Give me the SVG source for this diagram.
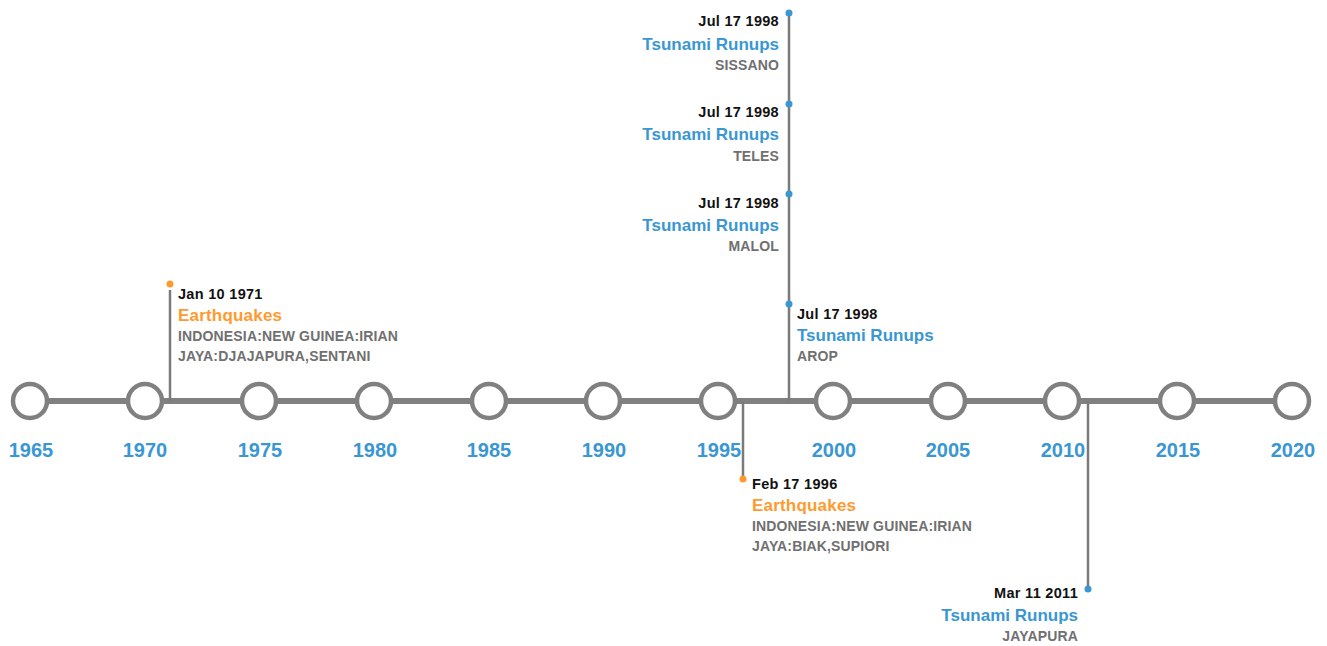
<svg xmlns="http://www.w3.org/2000/svg" width="1327" height="646" viewBox="0 0 1327 646">
<style>
text{font-family:"Liberation Sans",Arial,sans-serif;font-weight:bold}
.yr{font-size:20px;fill:#3a97d1;text-anchor:middle}
.dt{font-size:14.5px;fill:#111;letter-spacing:0.3px}
.eq{font-size:17px;fill:#ff9a2e;letter-spacing:0.2px}
.ts{font-size:17px;fill:#3a97d1}
.sb{font-size:14px;fill:#707070;letter-spacing:0.15px}
.r{text-anchor:end}
.tick{fill:#fff;stroke:#808080;stroke-width:4.5}
.stem{stroke:#7a7a7a;stroke-width:2.5}
.dotO{fill:#ff9a2e}
.dotB{fill:#3a97d1}
</style>
<rect width="1327" height="646" fill="#fff"/>
<g id="connectors">
<line x1="30" y1="401" x2="1292" y2="401" stroke="#808080" stroke-width="6"/>
<line class="stem" x1="170" y1="290" x2="170" y2="401"/>
<line class="stem" x1="743" y1="401" x2="743" y2="476"/>
<line class="stem" x1="789" y1="16" x2="789" y2="401"/>
<line class="stem" x1="1088" y1="401" x2="1088" y2="586"/>
</g>
<g id="axis">
<g id="y1965"><circle class="tick" cx="30" cy="401" r="17"/><text class="yr" x="31" y="457">1965</text></g>
<g id="y1970"><circle class="tick" cx="145" cy="401" r="17"/><text class="yr" x="145" y="457">1970</text></g>
<g id="y1975"><circle class="tick" cx="259" cy="401" r="17"/><text class="yr" x="260" y="457">1975</text></g>
<g id="y1980"><circle class="tick" cx="374" cy="401" r="17"/><text class="yr" x="375" y="457">1980</text></g>
<g id="y1985"><circle class="tick" cx="489" cy="401" r="17"/><text class="yr" x="489" y="457">1985</text></g>
<g id="y1990"><circle class="tick" cx="603" cy="401" r="17"/><text class="yr" x="604" y="457">1990</text></g>
<g id="y1995"><circle class="tick" cx="718" cy="401" r="17"/><text class="yr" x="719" y="457">1995</text></g>
<g id="y2000"><circle class="tick" cx="833" cy="401" r="17"/><text class="yr" x="834" y="457">2000</text></g>
<g id="y2005"><circle class="tick" cx="948" cy="401" r="17"/><text class="yr" x="948" y="457">2005</text></g>
<g id="y2010"><circle class="tick" cx="1062" cy="401" r="17"/><text class="yr" x="1063" y="457">2010</text></g>
<g id="y2015"><circle class="tick" cx="1177" cy="401" r="17"/><text class="yr" x="1178" y="457">2015</text></g>
<g id="y2020"><circle class="tick" cx="1292" cy="401" r="17"/><text class="yr" x="1293" y="457">2020</text></g>
</g>
<g id="ev1971">
<circle class="dotO" cx="170" cy="284" r="3.5"/>
<text class="dt" x="178" y="299">Jan 10 1971</text>
<text class="eq" x="178" y="321">Earthquakes</text>
<text class="sb" x="178" y="341">INDONESIA:NEW GUINEA:IRIAN</text>
<text class="sb" x="178" y="361">JAYA:DJAJAPURA,SENTANI</text>
</g>
<g id="ev1996">
<circle class="dotO" cx="743" cy="479" r="3.5"/>
<text class="dt" x="752" y="489">Feb 17 1996</text>
<text class="eq" x="752" y="511">Earthquakes</text>
<text class="sb" x="752" y="531">INDONESIA:NEW GUINEA:IRIAN</text>
<text class="sb" x="752" y="551">JAYA:BIAK,SUPIORI</text>
</g>
<g id="ev1998a">
<circle class="dotB" cx="789" cy="13" r="3.5"/>
<text class="dt r" x="779" y="26">Jul 17 1998</text>
<text class="ts r" x="779" y="50">Tsunami Runups</text>
<text class="sb r" x="779" y="70">SISSANO</text>
</g>
<g id="ev1998b">
<circle class="dotB" cx="789" cy="104" r="3.5"/>
<text class="dt r" x="779" y="117">Jul 17 1998</text>
<text class="ts r" x="779" y="140">Tsunami Runups</text>
<text class="sb r" x="779" y="161">TELES</text>
</g>
<g id="ev1998c">
<circle class="dotB" cx="789" cy="194" r="3.5"/>
<text class="dt r" x="779" y="208">Jul 17 1998</text>
<text class="ts r" x="779" y="231">Tsunami Runups</text>
<text class="sb r" x="779" y="251">MALOL</text>
</g>
<g id="ev1998d">
<circle class="dotB" cx="789" cy="304" r="3.5"/>
<text class="dt" x="797" y="319">Jul 17 1998</text>
<text class="ts" x="797" y="341">Tsunami Runups</text>
<text class="sb" x="797" y="361">AROP</text>
</g>
<g id="ev2011">
<circle class="dotB" cx="1088" cy="589" r="3.5"/>
<text class="dt r" x="1078" y="598">Mar 11 2011</text>
<text class="ts r" x="1078" y="621">Tsunami Runups</text>
<text class="sb r" x="1078" y="641">JAYAPURA</text>
</g>
</svg>
